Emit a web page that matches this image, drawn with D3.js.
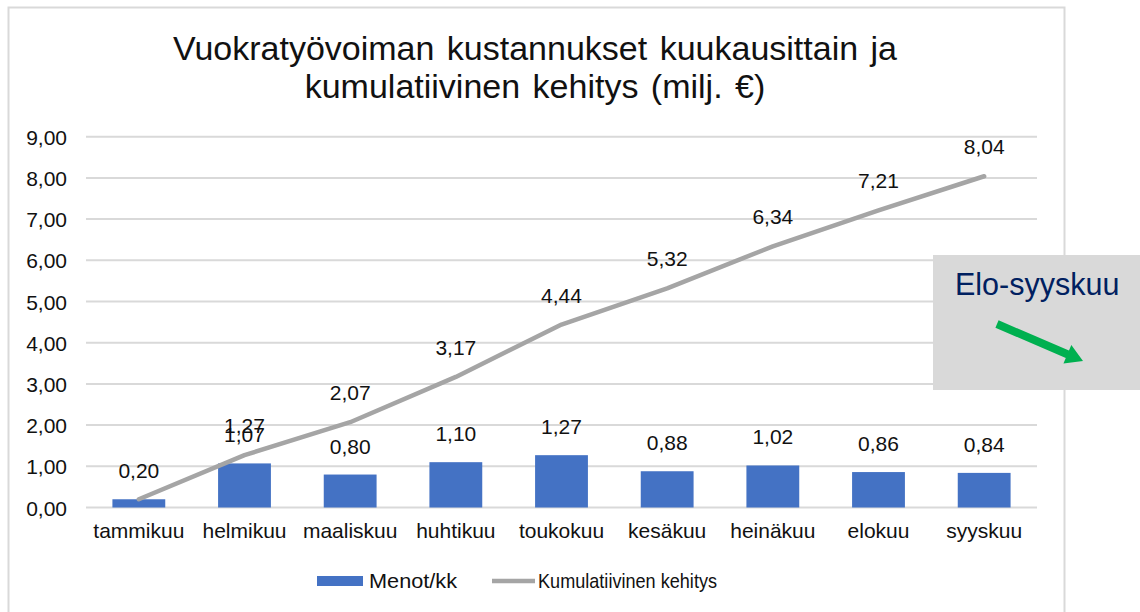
<!DOCTYPE html>
<html><head><meta charset="utf-8">
<script src="https://cdn.jsdelivr.net/npm/d3@7"></script>
<style>body{margin:0;background:#fff}svg{display:block;font-family:"Liberation Sans",Arial,sans-serif}</style>
</head><body><svg id="c" width="1140" height="612"></svg>
<script>
const months = ["tammikuu","helmikuu","maaliskuu","huhtikuu","toukokuu","kesäkuu","heinäkuu","elokuu","syyskuu"];
const monthly = [0.20,1.07,0.80,1.10,1.27,0.88,1.02,0.86,0.84];
const cumulative = [0.20,1.27,2.07,3.17,4.44,5.32,6.34,7.21,8.04];
const yTicks = [0,1,2,3,4,5,6,7,8,9];
const titleLines = ["Vuokratyövoiman kustannukset kuukausittain ja","kumulatiivinen kehitys (milj. €)"];
const seriesNames = ["Menot/kk","Kumulatiivinen kehitys"];
const noteText = "Elo-syyskuu";

const svg = d3.select("#c");
const fmt = v => d3.format(".2f")(v).replace(".", ",");
const x = d3.scaleBand().domain(months).range([86,1037]).paddingInner(0.5).paddingOuter(0.25);
const y = d3.scaleLinear().domain([0,9]).range([507.5,136.7]);
const FS = 21, TXT = "#111";

// chart border
svg.append("rect").attr("x",8.5).attr("y",7.5).attr("width",1056).attr("height",640)
  .attr("fill","#fff").attr("stroke","#d9d9d9").attr("stroke-width",2);

// title
svg.append("g").selectAll("text").data(titleLines).join("text")
  .attr("x",535).attr("y",(d,i)=>60+i*38).attr("text-anchor","middle")
  .attr("font-size",34).attr("fill","#111").attr("word-spacing",3).text(d=>d);

// grid
svg.append("g").selectAll("line").data(yTicks).join("line")
  .attr("x1",86).attr("x2",1037).attr("y1",d=>y(d)).attr("y2",d=>y(d))
  .attr("stroke","#d9d9d9").attr("stroke-width",2);

// y axis
const ya = svg.append("g").attr("transform","translate(86,0)")
  .call(d3.axisLeft(y).tickValues(yTicks).tickFormat(fmt).tickSize(0).tickPadding(19));
ya.select(".domain").remove();
ya.selectAll("text").attr("font-size",FS).attr("fill",TXT).attr("font-family","Liberation Sans, Arial, sans-serif").attr("dy","0.36em");

// x axis
const xa = svg.append("g").attr("transform","translate(0,507.5)")
  .call(d3.axisBottom(x).tickSize(0).tickPadding(16));
xa.select(".domain").remove();
xa.selectAll("text").attr("font-size",FS).attr("fill",TXT).attr("font-family","Liberation Sans, Arial, sans-serif");

// bars
svg.append("g").selectAll("rect").data(months).join("rect")
  .attr("x",d=>x(d)).attr("width",x.bandwidth())
  .attr("y",(d,i)=>y(monthly[i])).attr("height",(d,i)=>y(0)-y(monthly[i]))
  .attr("fill","#4472c4");

// line
const cx = d => x(d)+x.bandwidth()/2;
svg.append("path").datum(months)
  .attr("d", d3.line().x(d=>cx(d)).y((d,i)=>y(cumulative[i])))
  .attr("fill","none").attr("stroke","#a5a5a5").attr("stroke-width",4.5).attr("stroke-linecap","round").attr("stroke-linejoin","round");

// labels
svg.append("g").selectAll("text").data(months).join("text")
  .attr("x",cx).attr("y",(d,i)=>y(monthly[i])-21).attr("text-anchor","middle")
  .attr("font-size",FS).attr("fill",TXT).text((d,i)=>fmt(monthly[i]));
// cumulative labels (first one coincides with the bar label in the original)
svg.append("g").selectAll("text").data(months.slice(1)).join("text")
  .attr("x",cx).attr("y",(d,i)=>y(cumulative[i+1])-22).attr("text-anchor","middle")
  .attr("font-size",FS).attr("fill",TXT).text((d,i)=>fmt(cumulative[i+1]));

// legend
const lg = svg.append("g");
lg.append("rect").attr("x",317).attr("y",576).attr("width",46).attr("height",10).attr("fill","#4472c4");
lg.append("text").attr("x",369).attr("y",588).attr("font-size",FS).attr("fill",TXT)
  .attr("textLength",88).attr("lengthAdjust","spacingAndGlyphs").text(seriesNames[0]);
lg.append("line").attr("x1",492).attr("x2",535).attr("y1",581).attr("y2",581).attr("stroke","#a5a5a5").attr("stroke-width",4.5);
lg.append("text").attr("x",538).attr("y",588).attr("font-size",FS).attr("fill",TXT)
  .attr("textLength",179).attr("lengthAdjust","spacingAndGlyphs").text(seriesNames[1]);

// note box
svg.append("rect").attr("x",933).attr("y",255).attr("width",220).attr("height",135).attr("fill","#d9d9d9");
svg.append("text").attr("x",955).attr("y",295).attr("font-size",30.5).attr("fill","#002060").text(noteText);
// arrow
const t0=[997,324], t1=[1083,361];
const dx=t1[0]-t0[0], dy=t1[1]-t0[1], L=Math.hypot(dx,dy), u=[dx/L,dy/L], n=[-u[1],u[0]];
const hl=17, hw=10, sw=4;
const b=[t1[0]-u[0]*hl, t1[1]-u[1]*hl];
const P=(p,k,s)=>[p[0]+n[0]*k*s, p[1]+n[1]*k*s];
const pts=[P(t0,1,sw),P(b,1,sw),P(b,1,hw),t1,P(b,-1,hw),P(b,-1,sw),P(t0,-1,sw)];
svg.append("polygon").attr("points",pts.map(p=>p.join(",")).join(" ")).attr("fill","#00b050");
</script></body></html>
